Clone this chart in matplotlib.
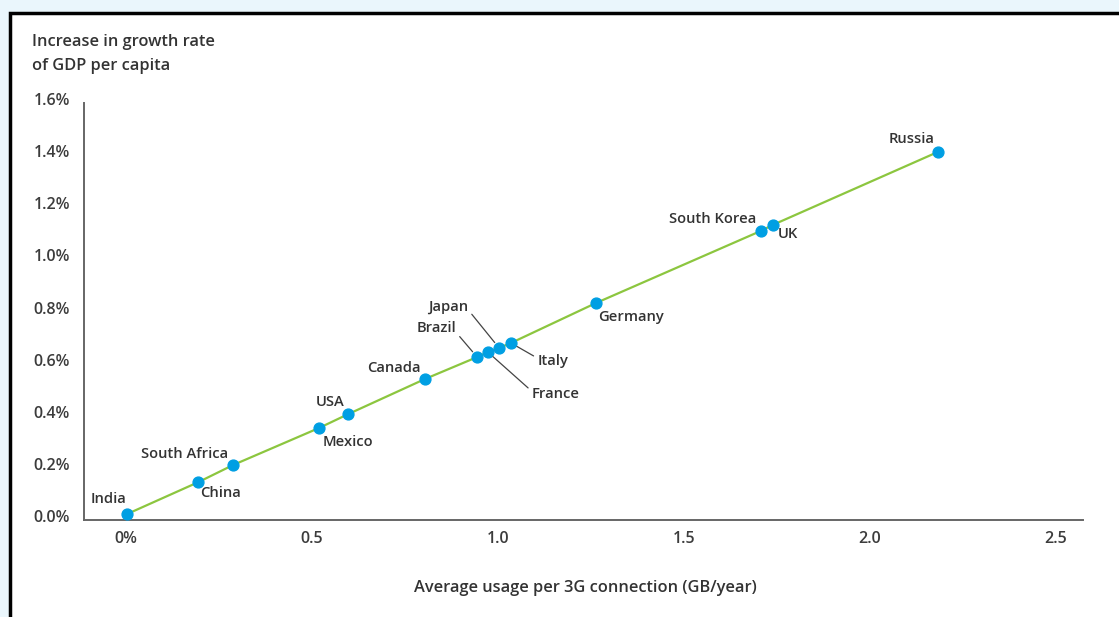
import matplotlib
matplotlib.use("Agg")
import matplotlib.pyplot as plt
from matplotlib.patches import Rectangle

# Data: average 3G data usage (GB/year) vs. increase in GDP-per-capita growth (%)
countries = ["India", "China", "South Africa", "Mexico", "USA", "Canada",
             "Brazil", "France", "Japan", "Italy", "Germany",
             "South Korea", "UK", "Russia"]
usage = [0.003, 0.194, 0.288, 0.519, 0.597, 0.804,
         0.944, 0.973, 1.003, 1.035, 1.263,
         1.707, 1.739, 2.183]
growth = [0.008, 0.130, 0.196, 0.338, 0.391, 0.526,
          0.610, 0.629, 0.645, 0.664, 0.817,
          1.094, 1.117, 1.397]

x_ticks = [0, 0.5, 1.0, 1.5, 2.0, 2.5]
x_tick_labels = ["0%", "0.5", "1.0", "1.5", "2.0", "2.5"]
y_ticks = [0.0, 0.2, 0.4, 0.6, 0.8, 1.0, 1.2, 1.4, 1.6]
y_tick_labels = ["0.0%", "0.2%", "0.4%", "0.6%", "0.8%", "1.0%", "1.2%", "1.4%", "1.6%"]

# Label placement: (dx, dy) in pixels, horizontal alignment, leader line
label_style = {
    "India":        (-19, 15, "center", False),
    "China":        (22, -11, "center", False),
    "South Africa": (-5, 11, "right", False),
    "Mexico":       (29, -14, "center", False),
    "USA":          (-18, 12, "center", False),
    "Canada":       (-4, 11, "right", False),
    "Brazil":       (-41, 29, "center", True),
    "France":       (68, -42, "center", True),
    "Japan":        (-51, 41, "center", True),
    "Italy":        (42, -18, "center", True),
    "Germany":      (2, -14, "left", False),
    "South Korea":  (-5, 12, "right", False),
    "UK":           (5, -9, "left", False),
    "Russia":       (-26, 13, "center", False),
}
leader_relpos = {"Brazil": (1.0, 0.2), "Japan": (1.0, 0.3),
                 "France": (0.0, 0.7), "Italy": (0.0, 0.7)}

TEXT = "#333333"
plt.rcParams["font.family"] = ["Open Sans", "DejaVu Sans"]

fig = plt.figure(figsize=(11.19, 6.17), dpi=100, facecolor="#eaf6fc")
fig.patches.append(Rectangle((9.5 / 1119, -0.1), 1.2, 1 - 13 / 617 + 0.1,
                             transform=fig.transFigure, facecolor="white",
                             edgecolor="black", linewidth=2.5, zorder=0))

ax = fig.add_axes([84 / 1119, 1 - 520 / 617, (1083 - 84) / 1119, (520 - 99) / 617])
ax.set_zorder(5)
ax.set_facecolor("none")

ax.plot(usage, growth, color="#8cc63f", linewidth=1.6, zorder=2)
ax.plot(usage, growth, linestyle="none", marker="o", markersize=7.8,
        markerfacecolor="#009fe3", markeredgecolor="#009fe3", zorder=3)

for name, xv, yv in zip(countries, usage, growth):
    dx, dy, ha, leader = label_style[name]
    kw = {}
    if leader:
        kw["arrowprops"] = dict(arrowstyle="-", color="#444444", lw=0.9,
                                shrinkA=1, shrinkB=5,
                                relpos=leader_relpos[name])
    ax.annotate(name, (xv, yv), xytext=(dx, dy), textcoords="offset pixels",
                ha=ha, va="center", fontsize=10.6, fontweight="semibold",
                color=TEXT, zorder=4, **kw)

ax.set_xlim(-0.113, 2.573)
ax.set_ylim(-0.015, 1.6)
ax.set_xticks(x_ticks)
ax.set_xticklabels(x_tick_labels, fontweight="semibold")
ax.set_yticks(y_ticks)
ax.set_yticklabels(y_tick_labels, fontweight="semibold")
ax.tick_params(axis="both", length=0, labelsize=11.5, labelcolor="#3c3c3c")
ax.tick_params(axis="x", pad=8)
ax.tick_params(axis="y", pad=10)

for side in ("top", "right"):
    ax.spines[side].set_visible(False)
for side in ("left", "bottom"):
    ax.spines[side].set_color("#666666")
    ax.spines[side].set_linewidth(1.4)
ax.spines["left"].set_bounds(-0.015, 1.585)

fig.text(32 / 1119, 1 - 34 / 617, "Increase in growth rate\nof GDP per capita",
         ha="left", va="top", fontsize=11.8, fontweight="semibold", color=TEXT,
         linespacing=1.65, zorder=6)
fig.text(585 / 1119, 1 - 588 / 617, "Average usage per 3G connection (GB/year)",
         ha="center", va="center", fontsize=11.8, fontweight="semibold",
         color=TEXT, zorder=6)

fig.savefig("out.png", dpi=100, facecolor=fig.get_facecolor())
